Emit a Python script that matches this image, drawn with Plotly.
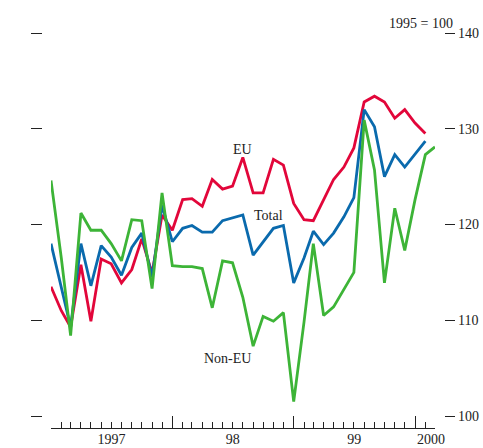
import plotly.graph_objects as go
import pandas as pd

# Monthly index values, 1995 = 100
months = pd.date_range("1997-01-01", "2000-03-01", freq="MS")

eu = [113.5, 111.0, 109.3, 115.8, 109.9, 116.4, 115.9, 113.9, 115.3, 118.5, 114.9, 121.0,
      119.4, 122.6, 122.7, 121.9, 124.7, 123.7, 124.0, 127.0, 123.3, 123.3, 126.8, 126.2,
      122.2, 120.5, 120.4, 122.6, 124.7, 126.0, 128.0, 132.8, 133.4, 132.8, 131.1, 132.0,
      130.6, 129.5]

total = [118.0, 113.6, 109.3, 118.0, 113.6, 117.8, 116.6, 114.7, 117.6, 119.1, 114.5, 122.0,
         118.2, 119.6, 119.9, 119.2, 119.2, 120.4, 120.7, 121.0, 116.8, 118.2, 119.6, 119.9,
         113.9, 116.5, 119.3, 117.9, 119.1, 120.8, 122.8, 132.0, 130.2, 125.0, 127.3, 126.0,
         127.4, 128.7]

non_eu = [124.6, 116.5, 108.4, 121.2, 119.4, 119.4, 118.0, 116.2, 120.5, 120.4, 113.3, 123.3,
          115.7, 115.6, 115.6, 115.4, 111.3, 116.2, 116.0, 112.4, 107.3, 110.4, 109.9, 110.8,
          101.5, 109.8, 118.0, 110.5, 111.4, 113.2, 115.0, 130.9, 125.7, 113.9, 121.7, 117.3,
          122.6, 127.3, 128.1]

y_ticks = [100, 110, 120, 130, 140]
year_label_pos = ["1997-07-02", "1998-07-02", "1999-07-02", "2000-02-18"]
year_labels = ["1997", "98", "99", "2000"]

series = [
    ("EU", eu, "#e2063a"),
    ("Total", total, "#0a6aad"),
    ("Non-EU", non_eu, "#3db437"),
]

W, H = 483, 448
ML, MR, MT, MB = 30, 28, 20, 20
plot_w = W - ML - MR
x_dom = [(51 - ML) / plot_w, (435 - ML) / plot_w]
y_rng = [98.747, 141.358]
xr = ["1997-01-01", "2000-03-01"]

font = "Liberation Serif, Times New Roman, serif"
ink = "#222222"

fig = go.Figure()
for name, vals, col in series:
    fig.add_trace(go.Scatter(
        x=months[:len(vals)], y=vals, mode="lines", name=name,
        line=dict(color=col, width=2.8), showlegend=False,
    ))

fig.update_layout(
    width=W, height=H,
    margin=dict(l=ML, r=MR, t=MT, b=MB, autoexpand=False),
    paper_bgcolor="white", plot_bgcolor="white",
    font=dict(family=font, size=14, color=ink),
    xaxis=dict(
        domain=x_dom, range=xr, anchor="y", type="date", automargin=False,
        showgrid=False, zeroline=False,
        showline=True, linecolor=ink, linewidth=1.3,
        ticks="inside", ticklen=12, tickwidth=1.3, tickcolor=ink,
        tick0="1997-01-01", dtick="M12", showticklabels=False,
        minor=dict(ticks="inside", ticklen=6, tickwidth=1.1, tickcolor=ink,
                   dtick="M1", tick0="1997-01-01", showgrid=False),
    ),
    xaxis2=dict(
        domain=x_dom, range=xr, anchor="y", overlaying="x", side="bottom",
        type="date", automargin=False, showgrid=False, zeroline=False, showline=False,
        ticks="", tickmode="array", tickvals=year_label_pos, ticktext=year_labels,
        tickfont=dict(family=font, size=14, color=ink), ticklabelstandoff=1,
    ),
    yaxis=dict(
        range=y_rng, anchor="free", position=0, automargin=False,
        showgrid=False, zeroline=False,
        showline=False, ticks="inside", ticklen=11, tickwidth=1.3, tickcolor=ink,
        tickmode="array", tickvals=y_ticks, showticklabels=False,
    ),
    yaxis2=dict(
        range=y_rng, anchor="free", position=1, overlaying="y", side="right",
        automargin=False, showgrid=False, zeroline=False, showline=False,
        ticks="inside", ticklen=10, tickwidth=1.3, tickcolor=ink,
        tickmode="array", tickvals=y_ticks, ticklabelstandoff=2,
        tickfont=dict(family=font, size=14, color=ink),
    ),
)

# invisible trace so the overlay axes render
fig.add_trace(go.Scatter(x=[xr[0]], y=[y_rng[0]], xaxis="x2", yaxis="y2",
                         mode="markers", marker=dict(opacity=0), showlegend=False,
                         hoverinfo="skip"))

labels = [
    ("EU", "1998-08-01", 127.8),
    ("Total", "1998-10-16", 120.9),
    ("Non-EU", "1998-06-15", 106.0),
]
for txt, xv, yv in labels:
    fig.add_annotation(x=xv, y=yv, xref="x", yref="y", text=txt, showarrow=False,
                       font=dict(family=font, size=14, color=ink),
                       xanchor="center", yanchor="middle")

fig.add_annotation(x=1.0, y=(H - MB - 24) / (H - MT - MB), xref="paper", yref="paper",
                   text="1995 = 100", showarrow=False, xanchor="right", yanchor="middle",
                   font=dict(family=font, size=14, color=ink))

post = (
    "var de=document.documentElement, b=document.body;"
    "de.style.margin='0'; b.style.margin='0'; b.style.padding='0';"
    "de.style.overflow='hidden'; b.style.overflow='hidden';"
    "var d=document.getElementById('{plot_id}');"
    "d.style.position='fixed'; d.style.left='0px'; d.style.top='0px';"
)

fig.write_html("out.html", config={"displayModeBar": False}, post_script=post)
